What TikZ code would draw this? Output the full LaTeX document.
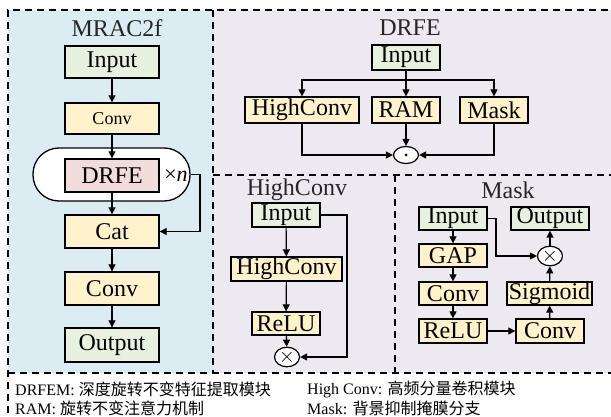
\documentclass[tikz,border=0pt]{standalone}
\usepackage{fontspec}
\setmainfont{Liberation Serif}
\newfontfamily\cjk{Noto Sans CJK SC}
\usetikzlibrary{arrows.meta,shapes.geometric}
\definecolor{panelblue}{RGB}{219,236,242}
\definecolor{panelgray}{RGB}{236,233,241}
\definecolor{boxgreen}{RGB}{232,240,224}
\definecolor{boxyellow}{RGB}{255,242,204}
\definecolor{boxpink}{RGB}{242,220,219}

\tikzset{
  blk/.style={draw, line width=1.3pt, inner sep=0pt, font=\fontsize{24}{24}\selectfont},
  ingreen/.style={blk, fill=boxgreen},
  opyellow/.style={blk, fill=boxyellow},
  oppink/.style={blk, fill=boxpink},
  flow/.style={line width=1.2pt, -{Triangle[length=7pt,width=7pt]}},
  sepline/.style={line width=1.3pt, dash pattern=on 7pt off 5pt},
  mulop/.style={ellipse, draw, fill=white, minimum width=25pt, minimum height=17pt, inner sep=0pt, line width=1.2pt, font=\fontsize{20}{20}\selectfont},
  title/.style={font=\fontsize{24}{24}\selectfont, text=black!85},
  legend/.style={anchor=west, font=\fontsize{16}{16}\selectfont, inner sep=0pt}
}

\begin{document}
\begin{tikzpicture}[x=1pt, y=-1pt]
\useasboundingbox (0,0) rectangle (611,417);

% Panels
\fill[panelblue] (8,10) rectangle (213,373);
\fill[panelgray] (213,10) rectangle (611,373);

% Dashed frames
\draw[sepline] (620,10) -- (8,10) -- (8,430);
\draw[sepline] (213,10) -- (213,373);
\draw[sepline] (213,175) -- (620,175);
\draw[sepline] (395,175) -- (395,373);
\draw[sepline] (8,373) -- (620,373);

% MRAC2f
\node[title] (mtitle) at (117,28) {MRAC2f};
\node[ingreen, minimum width=94pt, minimum height=32pt] (mIn) at (112,62) {Input};
\node[opyellow, minimum width=94pt, minimum height=31pt, font=\fontsize{18}{18}\selectfont] (mConvA) at (112,118.5) {Conv};
\node[draw, fill=white, line width=1.3pt, minimum width=157pt, minimum height=53pt, rounded corners=26pt] (loop) at (111.5,174.5) {};
\node[oppink, minimum width=94pt, minimum height=33pt] (mDR) at (112,175.5) {DRFE};
\node[font=\fontsize{22}{22}\selectfont, inner sep=0pt] (rep) at (176,176) {×\textit{n}};
\node[opyellow, minimum width=94pt, minimum height=33pt] (mCat) at (112,231.5) {Cat};
\node[opyellow, minimum width=94pt, minimum height=33pt] (mConvB) at (112,288.5) {Conv};
\node[ingreen, minimum width=94pt, minimum height=34pt] (mOut) at (112,345) {Output};

\draw[flow] (mIn) -- (mConvA);
\draw[flow] (mConvA) -- (mDR);
\draw[flow] (mDR) -- (mCat);
\draw[flow] (mCat) -- (mConvB);
\draw[flow] (mConvB) -- (mOut);
\draw[flow] (loop.east) -- (200,174.5) |- (mCat.east);

% DRFE
\node[title] (dtitle) at (410,28) {DRFE};
\node[ingreen, minimum width=68pt, minimum height=25pt] (dIn) at (406,57.5) {Input};
\node[opyellow, minimum width=114pt, minimum height=26pt] (dHigh) at (302,110) {HighConv};
\node[opyellow, minimum width=68pt, minimum height=26pt] (dRAM) at (406,110) {RAM};
\node[opyellow, minimum width=68pt, minimum height=26pt] (dMask) at (494,110) {Mask};
\node[mulop] (dDot) at (406,155) {};
\fill (dDot.center) circle (1.5pt);
\coordinate (dBr) at (406,80);

\draw[flow] (dIn) -- (dRAM);
\draw[flow] (dBr) -| (dHigh.north);
\draw[flow] (dBr) -| (dMask.north);
\draw[flow] (dRAM) -- (dDot);
\draw[flow] (dHigh.south) |- (dDot.west);
\draw[flow] (dMask.south) |- (dDot.east);

% HighConv
\node[ingreen, minimum width=68pt, minimum height=24pt] (hIn) at (286,215) {Input};
\node[title] (htitle) at (297,190) {HighConv};
\node[opyellow, minimum width=111pt, minimum height=24pt] (hConv) at (286.5,269) {HighConv};
\node[opyellow, minimum width=68pt, minimum height=23pt] (hReLU) at (286,323.5) {ReLU};
\node[mulop] (hMul) at (287,357) {$\times$};

\draw[flow] (hIn) -- (hConv);
\draw[flow] (hConv) -- (hReLU);
\draw[flow] (hReLU) -- (hMul);
\draw[flow] (hIn.east) -- (347,215) |- (hMul.east);

% Mask
\node[title] (ktitle) at (508,190) {Mask};
\node[ingreen, minimum width=68pt, minimum height=23pt] (kIn) at (453,218.5) {Input};
\node[ingreen, minimum width=78pt, minimum height=23pt] (kOut) at (550,218.5) {Output};
\node[opyellow, minimum width=68pt, minimum height=23pt] (kGAP) at (453,255.5) {GAP};
\node[opyellow, minimum width=68pt, minimum height=23pt] (kConvA) at (453,293.5) {Conv};
\node[opyellow, minimum width=68pt, minimum height=24pt] (kReLU) at (453,331) {ReLU};
\node[opyellow, minimum width=68pt, minimum height=24pt] (kConvB) at (550,331) {Conv};
\node[opyellow, minimum width=85pt, minimum height=23pt] (kSig) at (549.5,293.5) {Sigmoid};
\node[mulop] (kMul) at (550,256) {$\times$};

\draw[flow] (kIn) -- (kGAP);
\draw[flow] (kGAP) -- (kConvA);
\draw[flow] (kConvA) -- (kReLU);
\draw[flow] (kReLU) -- (kConvB);
\draw[flow] (kConvB) -- (kSig);
\draw[flow] (kSig) -- (kMul);
\draw[flow] (kMul) -- (kOut);
\draw[flow] (kIn.east) -- (496,218.5) |- (kMul.west);

% Legend
\node[legend] (lgA) at (15,389) {DRFEM: {\cjk 深度旋转不变特征提取模块}};
\node[legend] (lgB) at (15,408) {RAM: {\cjk 旋转不变注意力机制}};
\node[legend] (lgC) at (307,389) {High Conv: {\cjk 高频分量卷积模块}};
\node[legend] (lgD) at (307,408) {Mask: {\cjk 背景抑制掩膜分支}};

\end{tikzpicture}
\end{document}
